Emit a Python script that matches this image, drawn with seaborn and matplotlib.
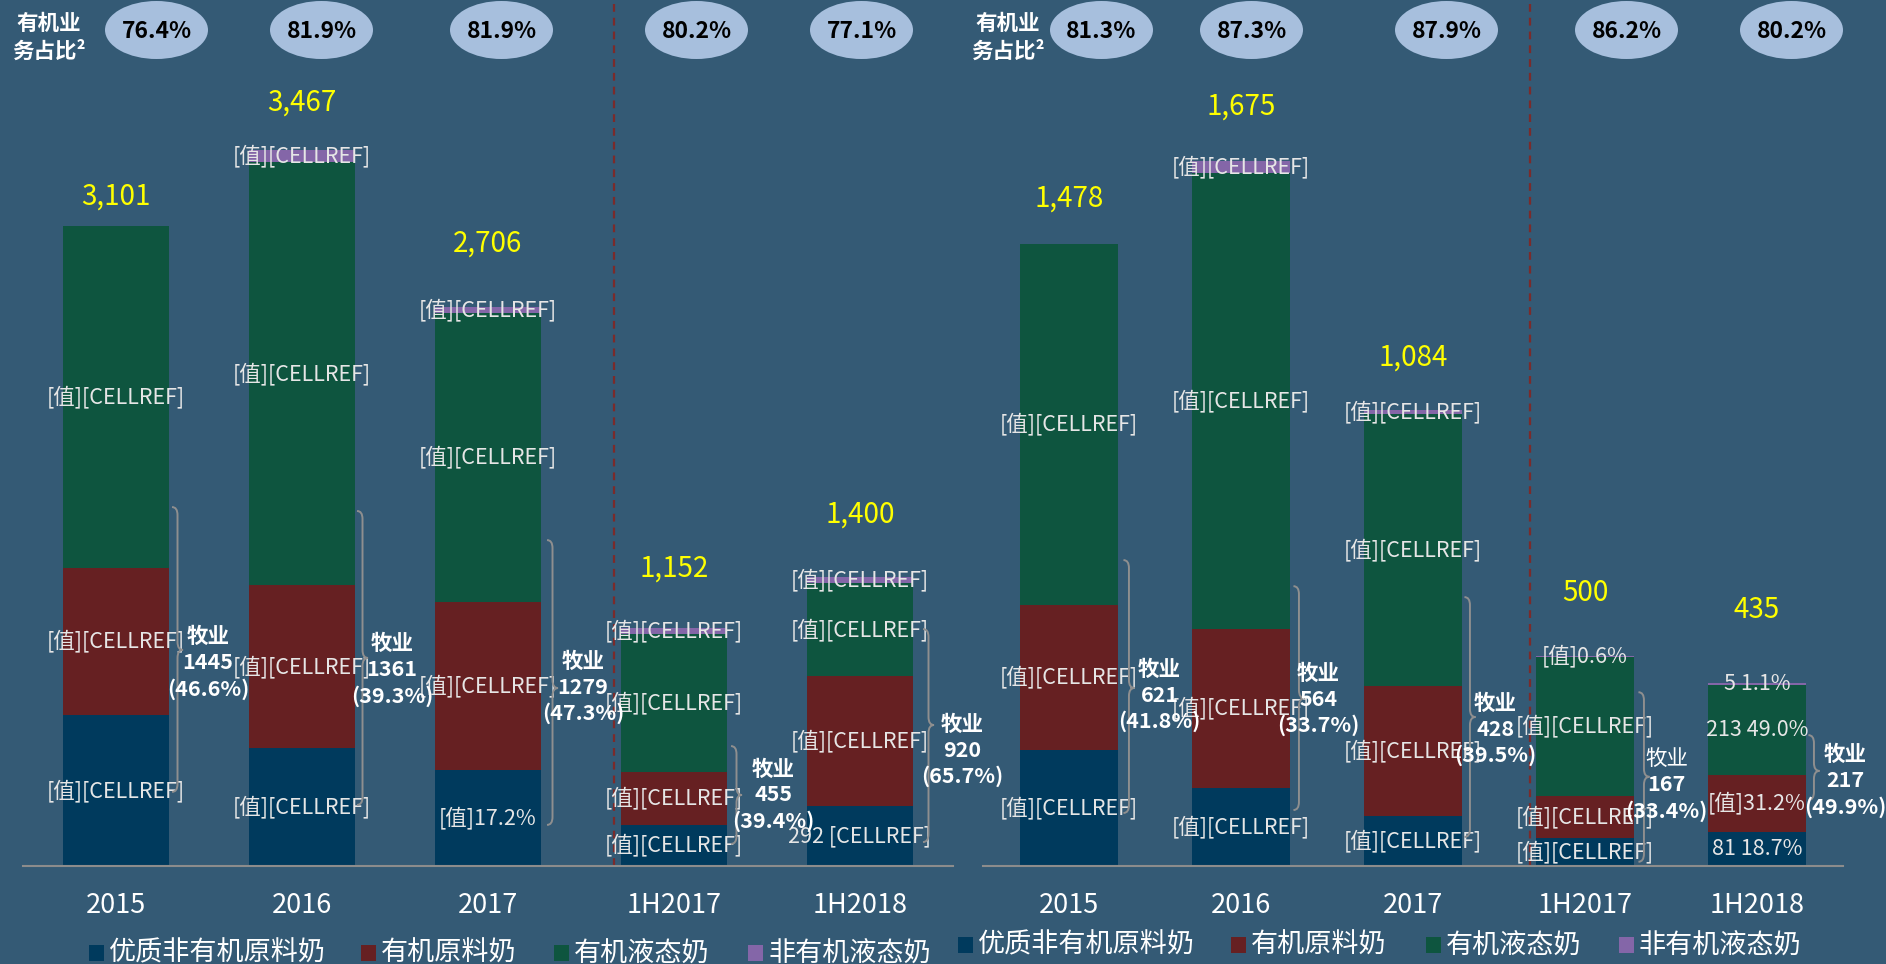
import matplotlib
matplotlib.use("Agg")
import numpy as np
import pandas as pd
import seaborn as sns
import matplotlib.pyplot as plt
from matplotlib.patches import Ellipse, Rectangle, PathPatch
from matplotlib.path import Path
from matplotlib.transforms import IdentityTransform

# ---------------- data ----------------
categories = ["2015", "2016", "2017", "1H2017", "1H2018"]
series_names = ["优质非有机原料奶", "有机原料奶", "有机液态奶", "非有机液态奶"]

left_blue = [732, 570, 465, 200, 292]
left_red = [713, 791, 814, 255, 628]
left_green = [1656, 2049, 1402, 669, 451]
left_purple = [0, 57, 25, 28, 29]
left_organic_share = ["76.4%", "81.9%", "81.9%", "80.2%", "77.1%"]
left_ranch_value = ["1445", "1361", "1279", "455", "920"]
left_ranch_share = ["(46.6%)", "(39.3%)", "(47.3%)", "(39.4%)", "(65.7%)"]
left_lbl_blue = ["[值][CELLREF]", "[值][CELLREF]", "[值]17.2%", "[值][CELLREF]", "292 [CELLREF]"]
left_lbl_red = ["[值][CELLREF]"] * 5
left_lbl_green = ["[值][CELLREF]"] * 5
left_lbl_purple = ["", "[值][CELLREF]", "[值][CELLREF]", "[值][CELLREF]", "[值][CELLREF]"]

right_blue = [276, 185, 120, 66, 81]
right_red = [345, 379, 308, 101, 136]
right_green = [857, 1083, 645, 330, 213]
right_purple = [0, 28, 11, 3, 5]
right_organic_share = ["81.3%", "87.3%", "87.9%", "86.2%", "80.2%"]
right_ranch_value = ["621", "564", "428", "167", "217"]
right_ranch_share = ["(41.8%)", "(33.7%)", "(39.5%)", "(33.4%)", "(49.9%)"]
right_lbl_blue = ["[值][CELLREF]"] * 4 + ["81 18.7%"]
right_lbl_red = ["[值][CELLREF]"] * 4 + ["[值]31.2%"]
right_lbl_green = ["[值][CELLREF]"] * 4 + ["213 49.0%"]
right_lbl_purple = ["", "[值][CELLREF]", "[值][CELLREF]", "[值]0.6%", "5 1.1%"]

# brace extents (data units) around the 牧业 part
left_brace_top = [1739, 1720, 1579, 581, 1148]
left_brace_bot = [359, 296, 199, 107, 116]
left_brace_tip = [1047, 1008, 862, 344, 683]
right_brace_top = [727, 665, 639, 413, 311]
right_brace_bot = [126, 133, 69, 10, 157]
right_brace_tip = [423, 399, 354, 212, 226]

# ---------------- layout / style ----------------
W, H = 1886, 964
BG = "#345A75"
C_BLUE, C_RED, C_GREEN, C_PURPLE = "#003A5D", "#662022", "#0E553F", "#8466A8"
ELL = "#A7BFDD"
FONT = ["Noto Sans CJK SC", "DejaVu Sans"]

sns.set_style("white")
plt.rcParams["font.family"] = FONT

fig = plt.figure(figsize=(W / 100, H / 100), dpi=100)
fig.patch.set_facecolor(BG)

BASE = 866  # baseline, px from top

panels = [
    dict(x0=23, x1=953, ymax=866 / 0.2064, blue=left_blue, red=left_red, green=left_green,
         purple=left_purple, share=left_organic_share, rv=left_ranch_value, rs=left_ranch_share,
         lb=[left_lbl_blue, left_lbl_red, left_lbl_green, left_lbl_purple],
         bt=left_brace_top, bb=left_brace_bot, btip=left_brace_tip,
         bgap=[3, 2, 6, 4, 10], tdx=[36, 35, 36, 42, 39], tdy=[13, 12, -1, 0, 25],
         tot_off=[29, 48, 64, 60, 62], width=0.57,
         ell_x=[156.5, 321.5, 501.5, 696.5, 861.5], ell_w=103,
         title_x=49, title_w=["bold"] * 5, leg_sq=[89, 361, 554, 748], leg_y=953),
    dict(x0=983, x1=1843, ymax=866 / 0.4208, blue=right_blue, red=right_red, green=right_green,
         purple=right_purple, share=right_organic_share, rv=right_ranch_value, rs=right_ranch_share,
         lb=[right_lbl_blue, right_lbl_red, right_lbl_green, right_lbl_purple],
         bt=right_brace_top, bb=right_brace_bot, btip=right_brace_tip,
         bgap=[5, 3, 2, 4, 2], tdx=[36, 25, 31, 28, 37], tdy=[7, 1, 12, 8, 10],
         tot_off=[45, 55, 52, 63, 73], width=0.575,
         ell_x=[1101.5, 1251.5, 1446.5, 1626.5, 1791.5], ell_w=103,
         title_x=1008, title_w=["bold", "bold", "bold", "normal", "bold"],
         leg_sq=[958, 1231, 1426, 1619], leg_y=945),
]


def fx(x):
    return x / W


def fy(y):
    return 1 - y / H


def brace(x, ytop, ybot, ytip, w=11, r=8):
    xm = x + w * 0.5
    verts = [(x, ytop), (xm, ytop), (xm, ytop - r),
             (xm, ytip + r),
             (xm, ytip), (x + w, ytip),
             (xm, ytip), (xm, ytip - r),
             (xm, ybot + r),
             (xm, ybot), (x, ybot)]
    codes = [Path.MOVETO, Path.CURVE3, Path.CURVE3, Path.LINETO,
             Path.CURVE3, Path.CURVE3, Path.CURVE3, Path.CURVE3,
             Path.LINETO, Path.CURVE3, Path.CURVE3]
    return Path(verts, codes)


for p in panels:
    ax = fig.add_axes([fx(p["x0"]), 1 - BASE / H, (p["x1"] - p["x0"]) / W, BASE / H])
    ax.set_facecolor("none")
    blue = np.array(p["blue"]); red = np.array(p["red"])
    green = np.array(p["green"]); purple = np.array(p["purple"])
    c1 = blue; c2 = c1 + red; c3 = c2 + green; c4 = c3 + purple
    layers = [(c4, C_PURPLE), (c3, C_GREEN), (c2, C_RED), (c1, C_BLUE)]
    for cum, col in layers:
        df = pd.DataFrame({"cat": categories, "val": cum})
        sns.barplot(data=df, x="cat", y="val", color=col, saturation=1, width=p["width"],
                    linewidth=0, errorbar=None, ax=ax)
    ax.set_xlim(-0.5, 4.5)
    ax.set_ylim(0, p["ymax"])
    ax.set_xlabel(""); ax.set_ylabel("")
    ax.set_yticks([])
    for s in ["top", "right", "left"]:
        ax.spines[s].set_visible(False)
    ax.spines["bottom"].set_color("#8C8C8C")
    ax.spines["bottom"].set_linewidth(1.5)
    ax.set_xticks(range(5))
    ax.set_xticklabels(categories, fontsize=19.5, color="white")
    ax.tick_params(axis="x", length=0, pad=18.5)
    ax.axvline(2.68, color="#7B2B2B", lw=1.6, ls=(0, (3.5, 2.7)))

    # segment labels
    bottoms = [np.zeros(5), c1, c2, c3]
    vals = [blue, red, green, purple]
    for k in range(4):
        for i in range(5):
            t = p["lb"][k][i]
            if not t:
                continue
            ax.text(i, bottoms[k][i] + vals[k][i] / 2, t, ha="center", va="center",
                    fontsize=15.5, color="#E6E6E6")
    # totals
    scale = BASE / p["ymax"]
    for i in range(5):
        ax.text(i, c4[i] + p["tot_off"][i] / scale, f"{int(c4[i]):,}", ha="center",
                va="center", fontsize=20, color="#FFFF00")

    # braces and 牧业 labels (display pixel coordinates)
    half = p["width"] / 2
    for i in range(5):
        xr, _ = ax.transData.transform((i + half, 0))
        _, yt = ax.transData.transform((0, p["bt"][i]))
        _, yb = ax.transData.transform((0, p["bb"][i]))
        _, ytp = ax.transData.transform((0, p["btip"][i]))
        bx = xr + p["bgap"][i]
        fig.add_artist(PathPatch(brace(bx, yt, yb, ytp), transform=IdentityTransform(),
                                 fill=False, edgecolor="#8F8F8F", lw=1.4))
        tx = bx + p["tdx"][i]
        ty = ytp - p["tdy"][i]
        fig.text(tx, ty + 26, "牧业", ha="center", va="center", fontsize=15.5,
                 fontweight=p["title_w"][i], color="white", transform=IdentityTransform())
        fig.text(tx, ty, p["rv"][i], ha="center", va="center", fontsize=15.5,
                 fontweight="bold", color="white", transform=IdentityTransform())
        fig.text(tx, ty - 26, p["rs"][i], ha="center", va="center", fontsize=15.5,
                 fontweight="bold", color="white", transform=IdentityTransform())

    # organic share ellipses
    for i in range(5):
        fig.add_artist(Ellipse((fx(p["ell_x"][i]), fy(30)), p["ell_w"] / W, 58 / H,
                               transform=fig.transFigure, facecolor=ELL, edgecolor="none"))
        fig.text(fx(p["ell_x"][i]), fy(31), p["share"][i], ha="center", va="center",
                 fontsize=16.5, fontweight="bold", color="black")
    fig.text(fx(p["title_x"]), fy(23), "有机业", ha="center", va="center", fontsize=15.5,
             fontweight="bold", color="white")
    fig.text(fx(p["title_x"]), fy(51), "务占比²", ha="center", va="center", fontsize=15.5,
             fontweight="bold", color="white")

    # legend
    for k, (name, col) in enumerate(zip(series_names, [C_BLUE, C_RED, C_GREEN, C_PURPLE])):
        sx = p["leg_sq"][k]
        fig.add_artist(Rectangle((fx(sx), fy(p["leg_y"] + 8)), 15 / W, 16 / H,
                                 transform=fig.transFigure, facecolor=col, edgecolor="none"))
        fig.text(fx(sx + 20), fy(p["leg_y"]), name, ha="left", va="center", fontsize=19.5,
                 color="white")

fig.savefig("out.png", dpi=100, facecolor=BG)
